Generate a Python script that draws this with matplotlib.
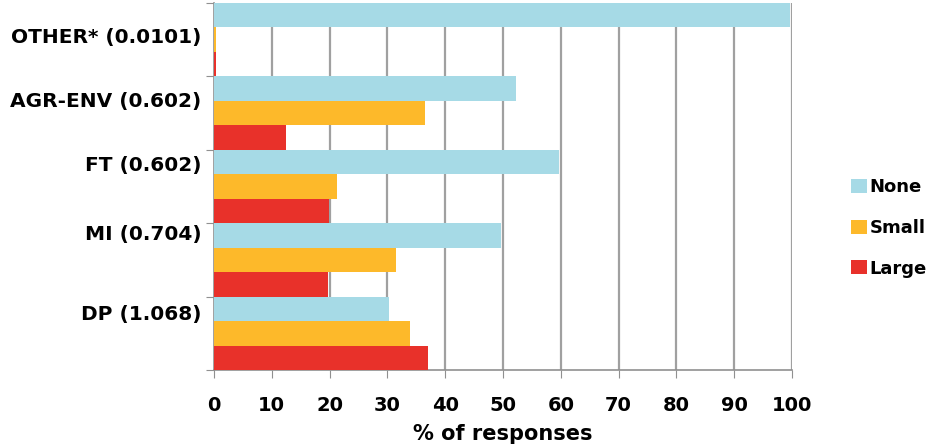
import matplotlib.pyplot as plt
import numpy as np

categories = ['OTHER* (0.0101)', 'AGR-ENV (0.602)', 'FT (0.602)', 'MI (0.704)', 'DP (1.068)']
none_vals = [99.6, 52.2, 59.7, 49.6, 30.3]
small_vals = [0.4, 36.5, 21.2, 31.5, 33.9]
large_vals = [0.4, 12.4, 19.9, 19.7, 37.0]
series_names = ['None', 'Small', 'Large']
colors = ['#a6dae6', '#fdb92a', '#e8312a']

# label placement inside each group (Excel put them unevenly)
label_offsets = [0.44, 0.32, 0.18, 0.12, 0.22]

fig = plt.figure(figsize=(9.31, 4.46), dpi=100)
ax = fig.add_axes([214 / 931, 1 - 370 / 446, 578 / 931, 367 / 446])

n = len(categories)
idx = np.arange(n)
h = 1 / 3
for k, (vals, name, c) in enumerate(zip([none_vals, small_vals, large_vals], series_names, colors)):
    ax.barh(idx + k * h, vals, height=h, align='edge', color=c, label=name, zorder=3)

ax.set_xlim(0, 100)
ax.set_ylim(n, 0)
ax.set_xticks(np.arange(0, 101, 10))
ax.xaxis.grid(True, color='#a0a0a0', linewidth=1.6, zorder=0)
ax.set_axisbelow(True)

# category boundaries as major ticks, labels as minor ticks
ax.set_yticks(np.arange(n + 1))
ax.set_yticklabels([])
ax.set_yticks(idx + np.array(label_offsets), minor=True)
ax.set_yticklabels(categories, minor=True, fontfamily='DejaVu Sans',
                   fontweight='bold', fontsize=14.5)
ax.tick_params(axis='y', which='minor', length=0, pad=9)
ax.tick_params(axis='y', which='major', length=6, color='#909090')
ax.tick_params(axis='x', length=6, color='#909090', pad=13)

for lbl in ax.get_xticklabels():
    lbl.set_fontfamily('DejaVu Sans')
    lbl.set_fontweight('bold')
    lbl.set_fontsize(14)

ax.set_xlabel('% of responses', fontfamily='DejaVu Sans', fontweight='bold', fontsize=15, labelpad=6)

for s in ['top', 'right']:
    ax.spines[s].set_visible(False)
for s in ['left', 'bottom']:
    ax.spines[s].set_color('#909090')
    ax.spines[s].set_linewidth(1.2)

leg = ax.legend(loc='center left', bbox_to_anchor=(1.09, 0.387), frameon=False,
                handlelength=0.85, handleheight=0.85, handletextpad=0.15,
                labelspacing=1.25, borderaxespad=0,
                prop={'family': 'DejaVu Sans', 'weight': 'bold', 'size': 13})

fig.savefig('out.png', dpi=100)
